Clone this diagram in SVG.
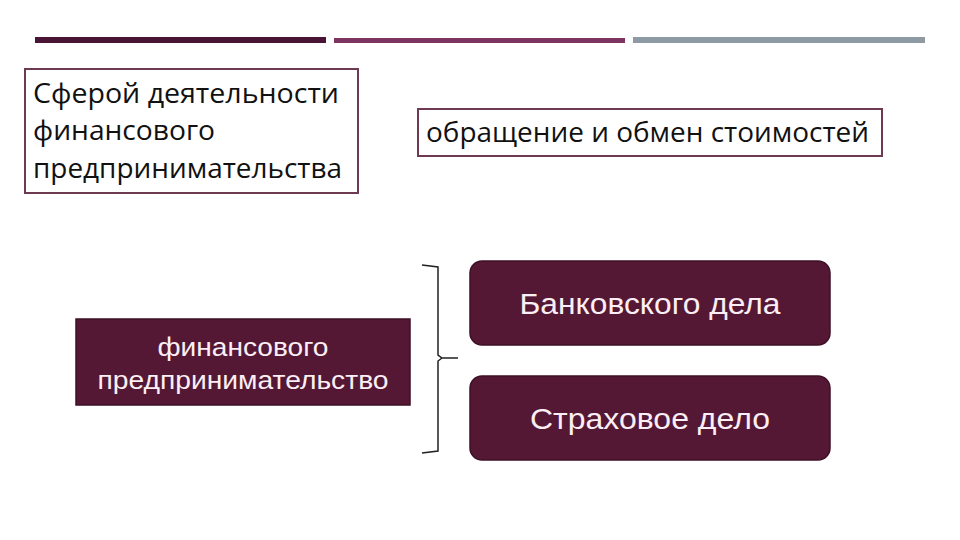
<svg xmlns="http://www.w3.org/2000/svg" width="960" height="540" viewBox="0 0 960 540">
<style>
.outline{fill:#ffffff;stroke:#6e3a52;stroke-width:2}
.dark{fill:#541834;stroke:#3e1026;stroke-width:1.5}
.t1{font-family:"Open Sans","Noto Sans","DejaVu Sans",sans-serif;font-size:27px;fill:#111111}
.t2{font-family:"Liberation Sans",Arial,sans-serif;fill:#fbeef4;text-anchor:middle}
.conn{fill:none;stroke:#222222;stroke-width:1.5}
</style>
<g id="header-bars">
<rect x="35" y="37" width="291" height="6" fill="#4a1535"/>
<rect x="334" y="38" width="291" height="5" fill="#7e3460"/>
<rect x="633" y="37" width="292" height="6" fill="#8e9aa3"/>
</g>
<g id="node-sphere">
<rect class="outline" x="25" y="69" width="333" height="124"/>
<text class="t1" x="33" y="103" textLength="306" lengthAdjust="spacingAndGlyphs">Сферой деятельности</text>
<text class="t1" x="33" y="140" textLength="182" lengthAdjust="spacingAndGlyphs">финансового</text>
<text class="t1" x="33" y="178" textLength="309" lengthAdjust="spacingAndGlyphs">предпринимательства</text>
</g>
<g id="node-exchange">
<rect class="outline" x="418" y="109" width="464" height="47"/>
<text class="t1" x="426" y="142" textLength="443" lengthAdjust="spacingAndGlyphs">обращение и обмен стоимостей</text>
</g>
<g id="node-fin">
<rect class="dark" x="76" y="319" width="334" height="86"/>
<text class="t2" x="243" y="356" font-size="25" textLength="171" lengthAdjust="spacingAndGlyphs">финансового</text>
<text class="t2" x="243" y="389" font-size="25" textLength="291" lengthAdjust="spacingAndGlyphs">предпринимательство</text>
</g>
<g id="connectors">
<path class="conn" d="M422,265 L438,267 L438,355 L442,358 L458,358 M442,358 L438,361 L438,451 L422,453"/>
</g>
<g id="node-bank">
<rect class="dark" x="470" y="261" width="360" height="84" rx="12"/>
<text class="t2" x="650" y="314" font-size="29" textLength="261" lengthAdjust="spacingAndGlyphs">Банковского дела</text>
</g>
<g id="node-insurance">
<rect class="dark" x="470" y="376" width="360" height="84" rx="12"/>
<text class="t2" x="650" y="429" font-size="29" textLength="240" lengthAdjust="spacingAndGlyphs">Страховое дело</text>
</g>
</svg>
